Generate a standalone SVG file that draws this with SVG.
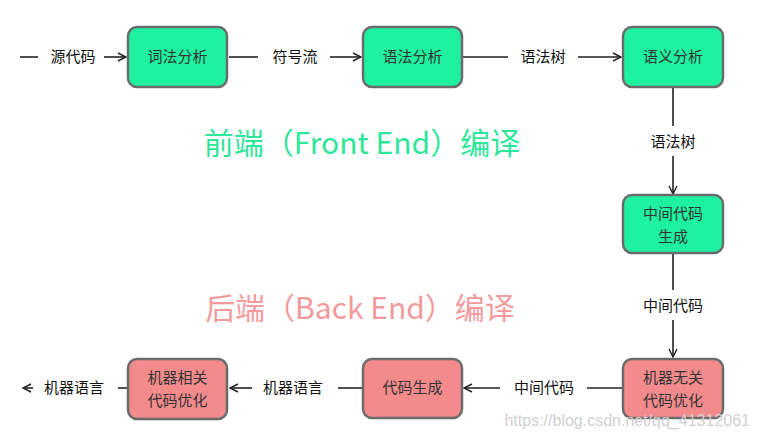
<svg xmlns="http://www.w3.org/2000/svg" width="760" height="441" viewBox="0 0 760 441">
<defs>
<marker id="arr" viewBox="0 0 10 10" refX="9" refY="5" markerWidth="10" markerHeight="10" markerUnits="userSpaceOnUse" orient="auto">
<path d="M1,1 L9,5 L1,9" fill="none" stroke="#222" stroke-width="1.4"/>
</marker>
</defs>
<style>
.g rect{fill:#1ef2a0;stroke:#6b6b6b;stroke-width:2.5}
.p rect{fill:#f38b8d;stroke:#6b6b6b;stroke-width:2.5}
.nt{font-family:"Noto Sans CJK SC","Noto Sans",sans-serif;font-size:15px;fill:#333;text-anchor:middle}
.lb{font-family:"Noto Sans CJK SC","Noto Sans",sans-serif;font-size:15px;fill:#111;text-anchor:middle}
.ln{stroke:#222;stroke-width:1.6;fill:none}
.ttl{font-family:"Noto Sans CJK SC","Noto Sans",sans-serif;font-size:30px;text-anchor:middle}
</style>
<rect width="760" height="441" fill="#fff"/>
<g id="connectors">
<line class="ln" x1="20" y1="57" x2="38" y2="57"/>
<line class="ln" x1="104" y1="57" x2="126" y2="57" marker-end="url(#arr)"/>
<line class="ln" x1="229" y1="57" x2="258" y2="57"/>
<line class="ln" x1="330" y1="57" x2="361" y2="57" marker-end="url(#arr)"/>
<line class="ln" x1="463" y1="57" x2="508" y2="57"/>
<line class="ln" x1="578" y1="57" x2="621" y2="57" marker-end="url(#arr)"/>
<line class="ln" x1="673" y1="88" x2="673" y2="126"/>
<line class="ln" x1="673" y1="156" x2="673" y2="194" marker-end="url(#arr)"/>
<line class="ln" x1="673" y1="254" x2="673" y2="290"/>
<line class="ln" x1="673" y1="320" x2="673" y2="357" marker-end="url(#arr)"/>
<line class="ln" x1="622" y1="388" x2="587" y2="388"/>
<line class="ln" x1="500" y1="388" x2="464" y2="388" marker-end="url(#arr)"/>
<line class="ln" x1="362" y1="388" x2="338" y2="388"/>
<line class="ln" x1="252" y1="388" x2="230" y2="388" marker-end="url(#arr)"/>
<line class="ln" x1="127" y1="388" x2="118" y2="388"/>
<line class="ln" x1="33" y1="388" x2="23" y2="388" marker-end="url(#arr)"/>
<text class="lb" x="73" y="62">源代码</text>
<text class="lb" x="295" y="62">符号流</text>
<text class="lb" x="543" y="62">语法树</text>
<text class="lb" x="673" y="147">语法树</text>
<text class="lb" x="673" y="311">中间代码</text>
<text class="lb" x="544" y="393">中间代码</text>
<text class="lb" x="293" y="393">机器语言</text>
<text class="lb" x="74" y="393">机器语言</text>
</g>
<g id="n1" class="g"><rect x="128" y="27" width="99" height="60" rx="9"/><text class="nt" x="177.5" y="62">词法分析</text></g>
<g id="n2" class="g"><rect x="363" y="27" width="99" height="60" rx="9"/><text class="nt" x="412.5" y="62">语法分析</text></g>
<g id="n3" class="g"><rect x="623" y="27" width="100" height="60" rx="9"/><text class="nt" x="673" y="62">语义分析</text></g>
<g id="n4" class="g"><rect x="623" y="195" width="100" height="58" rx="9"/><text class="nt" x="673" y="219">中间代码</text><text class="nt" x="673" y="242">生成</text></g>
<g id="n5" class="p"><rect x="623" y="359" width="100" height="59" rx="9"/><text class="nt" x="673" y="383">机器无关</text><text class="nt" x="673" y="406">代码优化</text></g>
<g id="n6" class="p"><rect x="363" y="359" width="99" height="59" rx="9"/><text class="nt" x="412.5" y="393">代码生成</text></g>
<g id="n7" class="p"><rect x="128" y="359" width="99" height="60" rx="9"/><text class="nt" x="177.5" y="383">机器相关</text><text class="nt" x="177.5" y="406">代码优化</text></g>
<text class="ttl" x="362" y="154" fill="#2ee69a">前端（Front End）编译</text>
<text class="ttl" x="360" y="319" fill="#f29a9c">后端（Back End）编译</text>
<text x="750" y="426" font-family="Liberation Sans, Arial, sans-serif" font-size="16" fill="#d0d0d0" text-anchor="end">https://blog.csdn.net/qq_41312061</text>
</svg>
